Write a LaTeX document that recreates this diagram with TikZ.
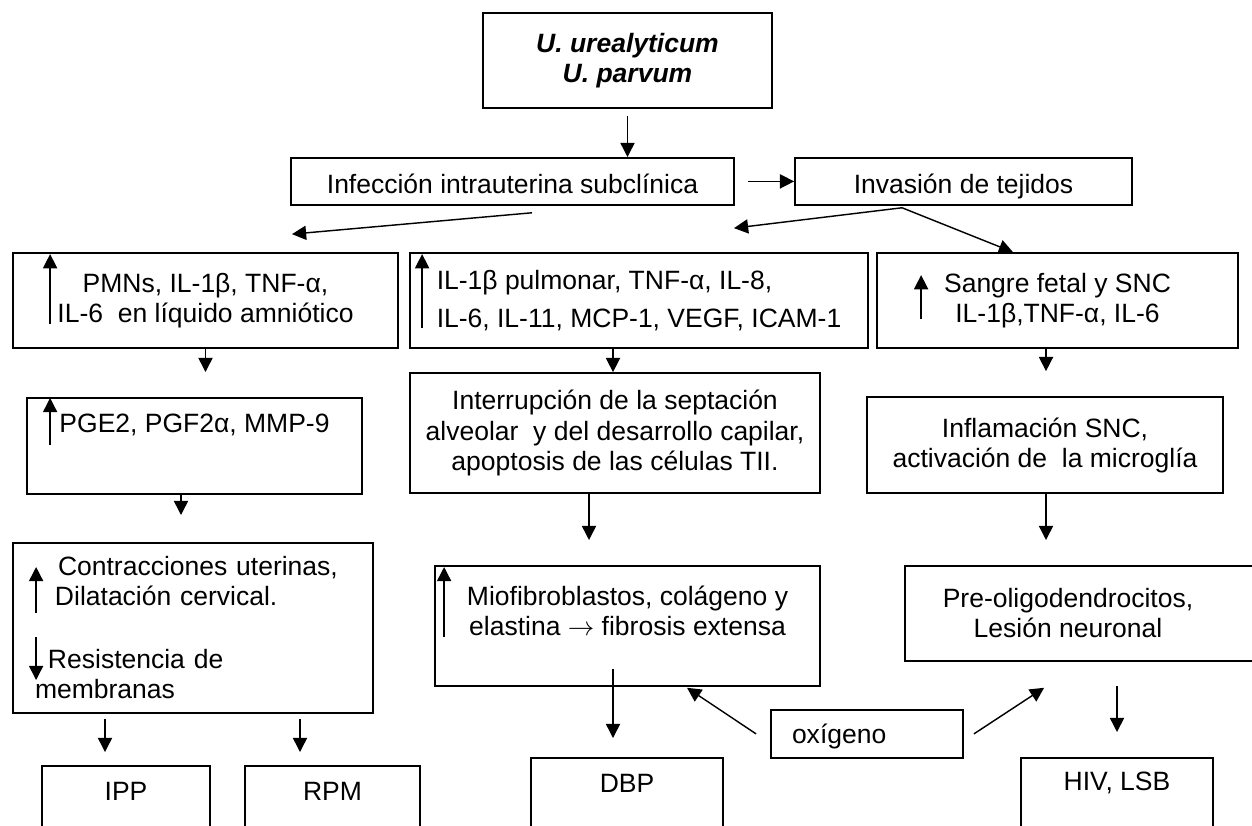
\documentclass[tikz,border=0pt]{standalone}
\usepackage{fontspec}
\setmainfont{Liberation Sans}
\usetikzlibrary{arrows.meta, calc}
\newdimen\pxu
\pxu=0.4528pt
\tikzset{stage/.style={
    rectangle,
    draw,
    line width=0.8pt,
    inner sep=0pt,
    font=\fontsize{12}{13.6}\selectfont
}}
\tikzset{flow/.style={
    ->,
    line width=0.65pt
}}
\tikzset{tall/.style={
    stage,
    anchor=north,
    minimum height=0pt,
    text depth=70\pxu
}}

\begin{document}
\begin{tikzpicture}[
    x=0.4528pt, y=-0.4528pt,
    >={Triangle[length=6.4pt, width=6.4pt]}
]
    \useasboundingbox (0,0) rectangle (1252,825);
    % Top
    \node (top) [stage, minimum width=289\pxu, minimum height=95\pxu, align=center,
        font=\fontsize{12}{13.6}\selectfont\bfseries\itshape] at (627.5,60.5)
        {U. urealyticum\\U. parvum};
    \node (inf) [stage, anchor=north, minimum width=443\pxu, text height=36\pxu, text depth=11\pxu]
        at (512.5,157) {Infección intrauterina subclínica};
    \node (inv) [stage, anchor=north, minimum width=337\pxu, text height=36\pxu, text depth=11\pxu]
        at (963.5,157) {Invasión de tejidos};
    % Left column
    \node (pmn) [stage, minimum width=385\pxu, minimum height=95\pxu, align=center]
        at (205.5,300.5) {PMNs, IL-1β, TNF-α,\\IL-6\ \ en líquido amniótico};
    \node (pge) [stage, anchor=north, minimum width=335\pxu, text height=35\pxu, text depth=61\pxu]
        at (194.5,397) {PGE2, PGF2α, MMP-9};
    \node (con) [stage, anchor=north, minimum width=360\pxu, minimum height=170\pxu,
        text width=316\pxu, align=left] at (193,542)
        {\hspace*{23\pxu}Contracciones uterinas,\\
         \hspace*{20\pxu}Dilatación cervical.\\[33\pxu]
         \hspace*{13\pxu}Resistencia de\\
         membranas};
    \node (ipp) [tall, minimum width=168\pxu, text height=35\pxu] at (126,765) {IPP};
    \node (rpm) [tall, minimum width=175\pxu, text height=35\pxu] at (332.5,765) {RPM};
    % Middle column
    \node (mid) [stage, minimum width=458\pxu, minimum height=95\pxu, align=left,
        font=\fontsize{12}{17.2}\selectfont] at (639,300.5)
        {IL-1β pulmonar, TNF-α, IL-8,\\IL-6, IL-11, MCP-1, VEGF, ICAM-1};
    \node (int) [stage, minimum width=410\pxu, minimum height=120\pxu, align=center]
        at (615,433) {Interrupción de la septación\\alveolar\ \ y del desarrollo capilar,\\apoptosis de las células TII.};
    \node (mio) [stage, anchor=north, minimum width=385\pxu, minimum height=120\pxu, align=center]
        at (627.5,565) {Miofibroblastos, colágeno y\\elastina $\rightarrow$ fibrosis extensa\\\mbox{}};
    \node (dbp) [tall, minimum width=192\pxu, text height=35\pxu] at (627,757) {DBP};
    \node (oxi) [stage, anchor=north, minimum width=192\pxu, text height=34\pxu, text depth=14\pxu]
        at (867,709) {\makebox[150\pxu][l]{oxígeno}};
    % Right column
    \node (sangre) [stage, minimum width=361\pxu, minimum height=95\pxu, align=center]
        at (1057.5,300.5) {Sangre fetal y SNC\\IL-1β,TNF-α, IL-6};
    \node (infl) [stage, minimum width=356\pxu, minimum height=96\pxu, align=center]
        at (1045,445) {Inflamación SNC,\\activación de\ \ la microglía};
    \node (pre) [stage, anchor=north, minimum width=353\pxu, minimum height=95\pxu, align=center]
        at (1081.5,565) {Pre-oligodendrocitos,\hspace*{27\pxu}\\Lesión neuronal\hspace*{27\pxu}};
    \node (hiv) [tall, minimum width=192\pxu, text height=33\pxu] at (1117,757) {HIV, LSB};

    % Arrows between boxes
    \coordinate (fork) at ($(inv.south)+(-61.5,2)$);
    \draw [flow] ($(top.south)+(0,7)$) -- (top.south |- inf.north);
    \draw [flow] ($(inf.east)+(13,0)$) -- (inv.west);
    \draw [flow] ($(inf.south)+(19.5,7)$) -- ($(pmn.north)+(86.5,-18)$);
    \draw [flow] (fork) -- ($(mid.north)+(95,-24)$);
    \draw [flow] (fork) -- ($(sangre.north)+(-44.5,0)$);
    \draw [flow] (pmn.south) -- ($(pmn.south |- pge.north)+(0,-25)$);
    \draw [flow] ($(pge.south)+(-13.5,0)$) -- ($(pge.south |- con.north)+(-13.5,-27)$);
    \draw [flow] ($(con.south -| ipp.north)+(-21,5)$) -- ($(ipp.north)+(-21,-13)$);
    \draw [flow] ($(con.south -| rpm.north)+(-32.5,5)$) -- ($(rpm.north)+(-32.5,-13)$);
    \draw [flow] ($(mid.south)+(-26,0)$) -- ($(int.north)+(-2,0)$);
    \draw [flow] ($(int.south)+(-26,0)$) -- ($(mio.north)+(-38.5,-25)$);
    \draw [flow] ($(mio.south)+(-14.5,-18)$) -- ($(dbp.north)+(-14,-19)$);
    \draw [flow] ($(oxi.west)+(-14,0)$) -- ($(mio.south)+(59.5,1)$);
    \draw [flow] ($(oxi.east)+(10,0)$) -- ($(pre.south west)+(140,26)$);
    \draw [flow] ($(sangre.south)+(-11.5,0)$) -- ($(infl.north)+(1,-25)$);
    \draw [flow] ($(infl.south)+(1,0)$) -- ($(pre.north)+(-35.5,-25)$);
    \draw [flow] ($(pre.south -| hiv.north)+(0,24)$) -- ($(hiv.north)+(0,-25)$);

    % Up and down marks inside boxes
    \draw [flow] ($(pmn.north west)+(38,72)$) -- ($(pmn.north west)+(38,2)$);
    \draw [flow] ($(pge.north west)+(24,48)$) -- ($(pge.north west)+(24,1)$);
    \draw [flow] ($(con.north west)+(24,71)$) -- ($(con.north west)+(24,25)$);
    \draw [flow] ($(con.north west)+(24,95)$) -- ($(con.north west)+(24,138)$);
    \draw [flow] ($(mid.north west)+(13,76)$) -- ($(mid.north west)+(13,2)$);
    \draw [flow] ($(mio.north west)+(10,72)$) -- ($(mio.north west)+(10,2)$);
    \draw [flow] ($(sangre.north west)+(45,67)$) -- ($(sangre.north west)+(45,23)$);
\end{tikzpicture}
\end{document}
